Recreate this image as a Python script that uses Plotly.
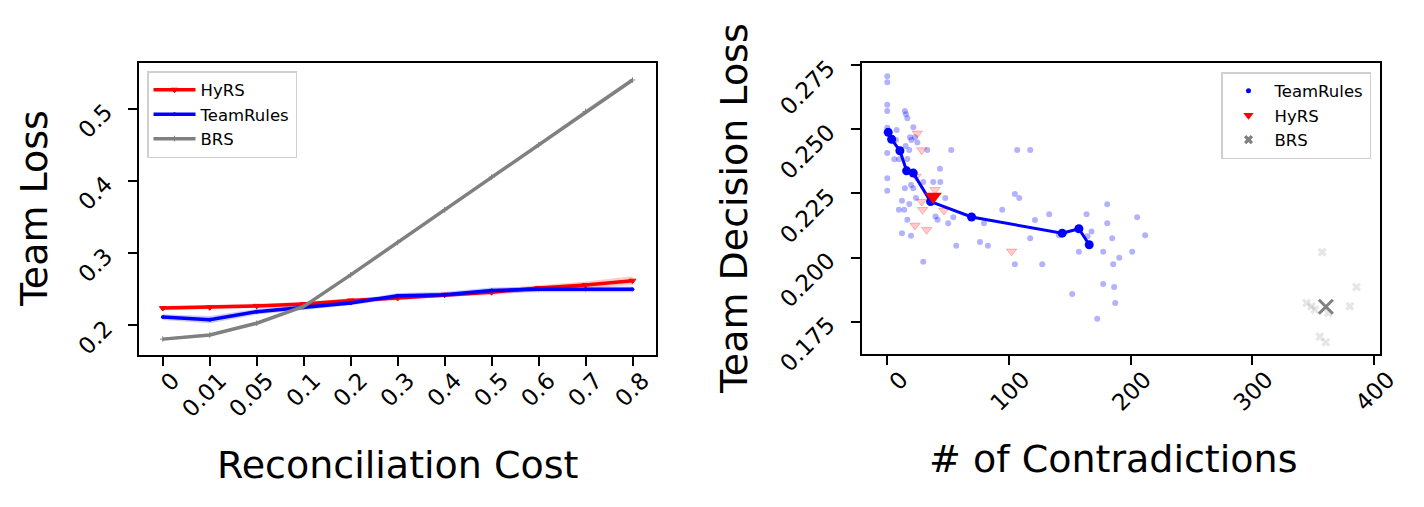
import plotly.graph_objects as go

# left panel: team loss vs reconciliation cost
cost_labels = ['0', '0.01', '0.05', '0.1', '0.2', '0.3', '0.4', '0.5', '0.6', '0.7', '0.8']
hyrs_loss = [0.224, 0.225, 0.227, 0.2296, 0.2346, 0.238, 0.2425, 0.246, 0.2518, 0.256, 0.262]
hyrs_std = [0.003, 0.003, 0.003, 0.003, 0.003, 0.003, 0.003, 0.004, 0.004, 0.005, 0.006]
team_loss = [0.2116, 0.208, 0.219, 0.225, 0.231, 0.241, 0.2425, 0.2485, 0.250, 0.250, 0.250]
team_std = [0.004, 0.005, 0.004, 0.003, 0.003, 0.004, 0.004, 0.004, 0.004, 0.004, 0.004]
brs_loss = [0.181, 0.1867, 0.203, 0.2263, 0.270, 0.315, 0.360, 0.4055, 0.450, 0.4964, 0.540]
brs_std = [0.002, 0.002, 0.002, 0.002, 0.002, 0.002, 0.002, 0.002, 0.002, 0.003, 0.003]

# right panel: decision loss vs number of contradictions
tr_x = [0, 0, 0, 0, 0, 0, 0, 0, 7.7, 7.1, 5.8, 14.5, 15.4, 16.5, 21.4, 18.7, 19.9, 22.8, 24.7, 15.1,
        18.1, 16.5, 9.6, 32.9, 52.6, 43.3, 37.8, 43.6, 29.6, 19.5, 14.5, 21.4, 23.6, 47.7, 12.1, 18.1,
        9.6, 14.0, 39.7, 41.4, 54.3, 50.1, 16.5, 12.1, 19.5, 56.7, 29.6, 76.2, 82.7, 79.5, 94.5, 104.9,
        108.5, 106.8, 117.5, 121.4, 133.1, 117.5, 127.4, 104.9, 141.1, 163.8, 167.9, 164.6, 180.8,
        180.8, 157.5, 184.9, 177.5, 190.7, 185.7, 201.3, 205.4, 212.0, 152.0, 177.5, 186.5, 187.4, 172.6]
tr_y = [0.2707, 0.2683, 0.2595, 0.2571, 0.2506, 0.2407, 0.2309, 0.2260, 0.2497, 0.2458, 0.2383, 0.2571,
        0.2558, 0.2543, 0.2508, 0.2469, 0.2458, 0.2469, 0.2448, 0.2435, 0.2419, 0.2384, 0.2383, 0.2419,
        0.2419, 0.2346, 0.2294, 0.2294, 0.2294, 0.2283, 0.2270, 0.2270, 0.2232, 0.2232, 0.2221, 0.2209,
        0.2186, 0.2186, 0.2160, 0.2147, 0.2157, 0.2134, 0.2147, 0.2095, 0.2085, 0.2046, 0.1984, 0.2061,
        0.2046, 0.2134, 0.2186, 0.2248, 0.2232, 0.2419, 0.2419, 0.2146, 0.2169, 0.2075, 0.1974, 0.1974,
        0.2087, 0.2169, 0.2101, 0.2083, 0.2208, 0.2134, 0.2023, 0.2075, 0.2023, 0.1999, 0.1974, 0.2023,
        0.2157, 0.2087, 0.1858, 0.1897, 0.1885, 0.1823, 0.1761]
hy_x = [24.7, 28.3, 23.6, 39.2, 28.3, 29.1, 46.6, 22.8, 32.4, 102.2]
hy_y = [0.2484, 0.2419, 0.2316, 0.2264, 0.2218, 0.2186, 0.2183, 0.2125, 0.2108, 0.2024]
brs_x = [357.4, 385.7, 344.6, 348.7, 351.4, 362.4, 380.2, 355.5, 360.5]
brs_y = [0.2021, 0.1885, 0.1823, 0.1810, 0.1797, 0.1784, 0.1810, 0.1691, 0.1670]
curve_x = [0.8, 3.6, 10.4, 15.9, 21.4, 35.6, 69.3, 143.8, 157.5, 166.0]
curve_y = [0.2488, 0.2461, 0.2416, 0.2338, 0.2329, 0.2218, 0.2158, 0.2095, 0.2112, 0.2050]
hy_mean = ([37.8], [0.2238])
brs_mean = ([360.5], [0.1808])

FONT = 'DejaVu Sans'
W, H = 1424, 507
PAGE_PAD = 8  # the page body adds 8px before the plot div


def fx(px):
    return (px - PAGE_PAD) / W


def fy(py):
    return 1 - (py - PAGE_PAD) / H


data = []

series = [
    ('HyRS', hyrs_loss, hyrs_std, 'red', 'rgba(255,0,0,0.2)', 'triangle-down', 6),
    ('TeamRules', team_loss, team_std, 'blue', 'rgba(0,0,255,0.2)', 'circle', 3),
    ('BRS', brs_loss, brs_std, 'gray', 'rgba(128,128,128,0.2)', 'cross-thin-open', 4),
]
for name, mean, std, col, band, sym, msize in series:
    upper = [m + s for m, s in zip(mean, std)]
    lower = [m - s for m, s in zip(mean, std)]
    data.append(go.Scatter(x=cost_labels, y=upper, mode='lines', line=dict(width=0),
                           showlegend=False, hoverinfo='skip', xaxis='x', yaxis='y'))
    data.append(go.Scatter(x=cost_labels, y=lower, mode='lines', line=dict(width=0),
                           fill='tonexty', fillcolor=band, showlegend=False,
                           hoverinfo='skip', xaxis='x', yaxis='y'))
    data.append(go.Scatter(x=cost_labels, y=mean, mode='lines+markers', name=name,
                           line=dict(color=col, width=3.5),
                           marker=dict(symbol=sym, size=msize, color=col, line=dict(color=col, width=1)),
                           legend='legend', xaxis='x', yaxis='y'))

# right panel scatter clouds
data.append(go.Scatter(x=tr_x, y=tr_y, mode='markers', showlegend=False,
                       marker=dict(color='rgba(0,0,255,0.3)', size=6),
                       xaxis='x2', yaxis='y2'))
data.append(go.Scatter(x=hy_x, y=hy_y, mode='markers', showlegend=False,
                       marker=dict(symbol='triangle-down', color='rgba(255,0,0,0.2)', size=9,
                                   line=dict(color='rgba(255,0,0,0.25)', width=1)),
                       xaxis='x2', yaxis='y2'))
data.append(go.Scatter(x=brs_x, y=brs_y, mode='markers', showlegend=False,
                       marker=dict(symbol='x', color='rgba(128,128,128,0.2)', size=8),
                       xaxis='x2', yaxis='y2'))
data.append(go.Scatter(x=curve_x, y=curve_y, mode='lines+markers', showlegend=False,
                       line=dict(color='blue', width=3), marker=dict(color='blue', size=9),
                       xaxis='x2', yaxis='y2'))
data.append(go.Scatter(x=hy_mean[0], y=hy_mean[1], mode='markers', showlegend=False,
                       marker=dict(symbol='triangle-down', color='red', size=15),
                       xaxis='x2', yaxis='y2'))
data.append(go.Scatter(x=brs_mean[0], y=brs_mean[1], mode='markers', showlegend=False,
                       marker=dict(symbol='x-thin-open', color='gray', size=14,
                                   line=dict(color='gray', width=3)),
                       xaxis='x2', yaxis='y2'))

# legend entries for the right panel
for name, sym, col, size in [('TeamRules', 'circle', 'blue', 5),
                             ('HyRS', 'triangle-down', 'red', 9),
                             ('BRS', 'x', 'gray', 8)]:
    data.append(go.Scatter(x=[None], y=[None], mode='markers', name=name,
                           marker=dict(symbol=sym, color=col, size=size),
                           legend='legend2', xaxis='x2', yaxis='y2'))

axis_style = dict(showline=True, mirror=True, linecolor='black', linewidth=2,
                  ticks='outside', ticklen=9, tickwidth=2, tickcolor='black',
                  showgrid=False, zeroline=False, tickangle=-45, automargin=False,
                  tickfont=dict(family=FONT, size=23, color='black'))
legend_style = dict(bgcolor='white', bordercolor='#d0d0d0', borderwidth=1.5,
                    font=dict(family=FONT, size=16.5, color='black'), itemwidth=42,
                    yanchor='top', traceorder='normal')
title_font = dict(family=FONT, size=38, color='black')

layout = go.Layout(
    width=W, height=H,
    margin=dict(l=0, r=0, t=0, b=0),
    paper_bgcolor='white', plot_bgcolor='white',
    font=dict(family=FONT, color='black'),
    xaxis=dict(domain=[fx(139.3), fx(656)], type='category', range=[-0.5, 10.5],
               ticklabelshift=10, ticklabelstandoff=-8, anchor='y', **axis_style),
    yaxis=dict(domain=[fy(355), fy(62.7)], range=[0.159, 0.564],
               tickvals=[0.2, 0.3, 0.4, 0.5], ticktext=['0.2', '0.3', '0.4', '0.5'],
               ticklabelstandoff=18, anchor='x', **axis_style),
    xaxis2=dict(domain=[fx(861.7), fx(1380)], range=[-21, 405],
                tickvals=[0, 100, 200, 300, 400], ticklabelshift=14, ticklabelstandoff=-8,
                anchor='y2', **axis_style),
    yaxis2=dict(domain=[fy(354), fy(63.3)], range=[0.1624, 0.2757],
                tickvals=[0.175, 0.2, 0.225, 0.25, 0.275], tickformat='.3f',
                ticklabelstandoff=18, anchor='x2', **axis_style),
    legend=dict(x=fx(147), y=fy(71), xanchor='left', **legend_style),
    legend2=dict(x=fx(1371), y=fy(72), xanchor='right', **legend_style),
    annotations=[
        dict(text='Team Loss', x=fx(34), y=fy(209), xref='paper', yref='paper',
             textangle=-90, xanchor='center', yanchor='middle', showarrow=False, font=title_font),
        dict(text='Reconciliation Cost', x=fx(398), y=fy(465), xref='paper', yref='paper',
             xanchor='center', yanchor='middle', showarrow=False, font=title_font),
        dict(text='Team Decision Loss', x=fx(734), y=fy(209), xref='paper', yref='paper',
             textangle=-90, xanchor='center', yanchor='middle', showarrow=False, font=title_font),
        dict(text='# of Contradictions', x=fx(1113), y=fy(459), xref='paper',
             yref='paper', xanchor='center', yanchor='middle', showarrow=False, font=title_font),
    ],
)

fig = go.Figure(data=data, layout=layout)
fig.write_html('out.html')
